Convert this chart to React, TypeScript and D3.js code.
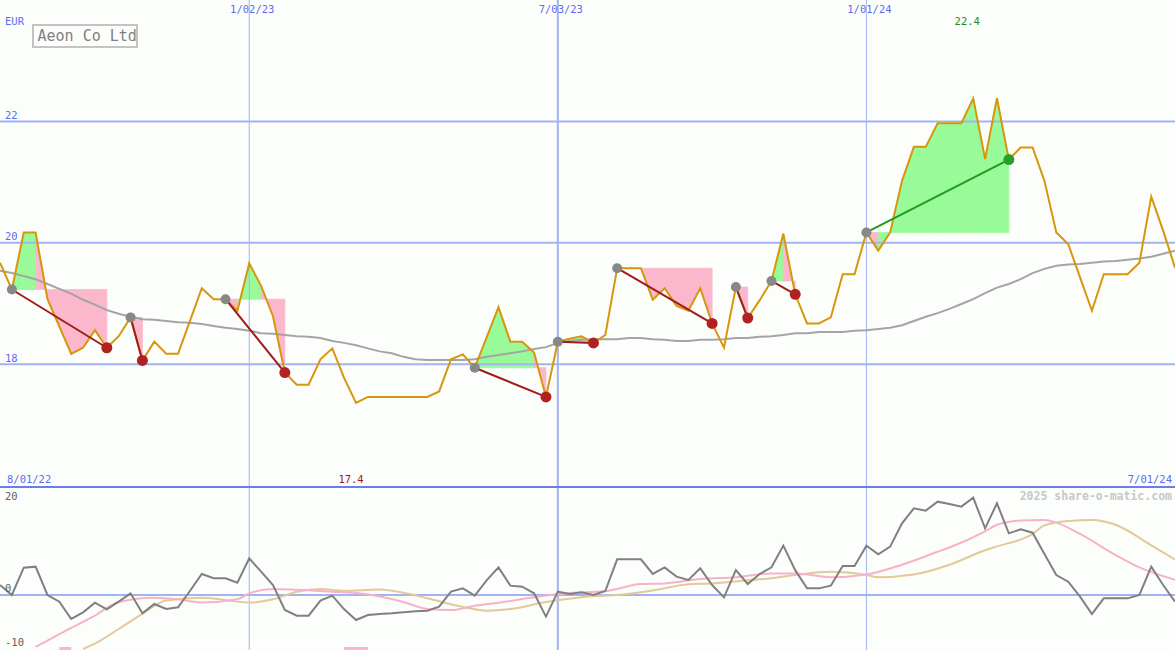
import * as d3 from "d3";

const W = 1175;
const H = 650;
const PANEL_Y = 487;

// weekly closes, EUR, from 8 Aug 2022 to 1 Jul 2024
const closes = [
  19.67, 19.23, 20.17, 20.17, 19.07, 18.62, 18.17, 18.27, 18.56, 18.27,
  18.46, 18.77, 18.06, 18.37, 18.17, 18.17, 18.71, 19.25, 19.07, 19.07,
  18.88, 19.66, 19.29, 18.79, 17.86, 17.66, 17.66, 18.08, 18.26, 17.77,
  17.36, 17.46, 17.46, 17.46, 17.46, 17.46, 17.46, 17.55, 18.08, 18.16,
  17.94, 18.44, 18.94, 18.37, 18.37, 18.19, 17.46, 18.37, 18.42, 18.46,
  18.35, 18.48, 19.58, 19.58, 19.58, 19.06, 19.25, 18.96, 18.88, 19.25,
  18.67, 18.27, 19.27, 18.76, 19.05, 19.37, 20.15, 19.15, 18.67, 18.67,
  18.77, 19.48, 19.48, 20.17, 19.87, 20.17, 21.02, 21.58, 21.58, 21.97,
  21.97, 21.97, 22.38, 21.38, 22.38, 21.37, 21.57, 21.57, 21.02, 20.17,
  19.98, 19.43, 18.88, 19.48, 19.48, 19.48, 19.67, 20.76, 20.2, 19.59,
];

// slow moving average (grey)
const movingAvg = [
  19.54, 19.5, 19.45, 19.4, 19.32, 19.24, 19.16, 19.06, 18.98, 18.89,
  18.83, 18.78, 18.74, 18.73, 18.71, 18.69, 18.68, 18.66, 18.63, 18.6,
  18.58, 18.55, 18.51, 18.5, 18.48, 18.46, 18.45, 18.43, 18.38, 18.35,
  18.31, 18.26, 18.21, 18.18, 18.12, 18.08, 18.07, 18.07, 18.07, 18.07,
  18.08, 18.12, 18.15, 18.18, 18.21, 18.25, 18.28, 18.35, 18.38, 18.4,
  18.41, 18.41, 18.41, 18.43, 18.43, 18.41, 18.4, 18.38, 18.38, 18.4,
  18.4, 18.41, 18.43, 18.43, 18.45, 18.46, 18.48, 18.51, 18.51, 18.53,
  18.53, 18.53, 18.55, 18.56, 18.58, 18.6, 18.64, 18.71, 18.78, 18.84,
  18.91, 18.99, 19.07, 19.17, 19.26, 19.32, 19.4, 19.5, 19.57, 19.62,
  19.64, 19.65, 19.67, 19.69, 19.7, 19.72, 19.74, 19.77, 19.82, 19.87,
];

// [start week, end week] of each signal
const signals: [number, number][] = [
  [1, 9], [11, 12], [19, 24], [40, 46], [47, 50],
  [52, 60], [62, 63], [65, 67], [73, 85],
];

// lower panel: momentum (dark grey)
const momentum = [
  1.85, 0, 5.06, 5.25, 0, -1.23, -4.44, -3.21, -1.42, -2.65,
  -1.23, 0.31, -3.4, -1.67, -2.59, -2.28, 0.74, 3.89, 3.09, 3.09,
  2.28, 6.79, 4.32, 1.85, -2.78, -3.83, -3.83, -1.05, -0.12, -2.65,
  -4.63, -3.7, -3.5, -3.4, -3.2, -3.0, -2.9, -2.16, 0.62, 1.23,
  -0.12, 2.7, 5.12, 1.73, 1.54, 0.31, -4.0, 0.62, 0.19, 0.49,
  0, 0.74, 6.6, 6.6, 6.6, 3.89, 5.12, 3.4, 2.78, 4.94,
  1.85, -0.43, 4.63, 2.04, 3.89, 5.12, 9.14, 4.6, 1.23, 1.23,
  1.73, 5.37, 5.37, 9.14, 7.53, 8.95, 13.27, 16.05, 15.62, 17.28,
  16.85, 16.36, 18.02, 12.35, 16.98, 11.42, 12.16, 11.54, 7.59, 3.7,
  2.47, -0.31, -3.52, -0.62, -0.62, -0.62, 0, 5.25, 1.85, -1.23,
];

// smoothed momentum lines, [week, value]
const pinkLine: [number, number][] = [
  [3, -9.6], [6, -6.1], [8, -3.8], [10, -1.3], [13, -0.5], [15, -0.8],
  [17, -1.4], [20, -0.8], [21, 0.3], [23, 1.1], [25, 0.95], [28, 0.6],
  [30, 0.35], [34, -1.3], [36, -2.6], [38, -2.8], [40, -2.0], [42, -1.45],
  [45, -0.43], [48, 0.35], [51, 0.7], [54, 2.04], [56, 2.15], [59, 2.96],
  [62, 3.3], [65, 4.0], [67, 4.0], [70, 3.3], [73, 3.8], [76, 5.6],
  [79, 8.0], [80, 8.8], [83, 11.8], [84, 13.0], [86, 13.8], [88, 13.9],
  [89, 13.4], [91, 11.3], [94, 7.4], [96, 5.1], [99, 2.8],
];
const tanLine: [number, number][] = [
  [7, -10], [8, -9.0], [10, -6.3], [12, -3.5], [14, -1.0], [17, -0.5],
  [21, -1.4], [23, -0.8], [25, 0.6], [27, 1.1], [29, 0.8], [32, 1.0],
  [34, 0.4], [36, -0.6], [39, -2.2], [41, -2.9], [43, -2.6], [46, -1.3],
  [49, -0.4], [52, 0], [55, 0.85], [58, 2.0], [60, 2.15], [63, 2.75],
  [65, 3.1], [67, 3.7], [70, 4.3], [73, 3.7], [74, 3.3], [77, 3.8],
  [80, 5.6], [83, 8.3], [84, 9.0], [87, 11.3], [88, 12.9], [90, 13.7],
  [92, 13.9], [94, 13.0], [97, 9.2], [99, 6.6],
];
const lowBars: [number, number][] = [[5, 6], [29, 31]];

const priceTicks = [22, 20, 18];
const oscTicks = [20, 0, -10];
const dateTicks = [
  new Date(Date.UTC(2023, 0, 2)),
  new Date(Date.UTC(2023, 6, 3)),
  new Date(Date.UTC(2024, 0, 1)),
];

const weeks = closes.map((_, i) => d3.utcDay.offset(new Date(Date.UTC(2022, 7, 8)), i * 7));

const BLUE = "#5c6cf0";
const GRID = "#a4b2f2";
const MONO = "'DejaVu Sans Mono', monospace";

export default function App() {
  const x = d3.scaleUtc().domain([weeks[0], weeks[weeks.length - 1]]).range([0, W]);
  const y = d3.scaleLinear().domain([16, 24]).range([485.5, 0]);
  const yo = d3.scaleLinear().domain([-10, 20]).range([649, PANEL_Y]);
  const xi = (i: number) => x(weeks[i]);
  const fmt = d3.utcFormat("%-m/%d/%y");

  const priceLine = d3.line<number>().x((_, i) => xi(i)).y((d) => y(d));
  const oscLine = d3.line<number>().x((_, i) => xi(i)).y((d) => yo(d));
  const smooth = d3
    .line<[number, number]>()
    .x((d) => xi(d[0]))
    .y((d) => yo(d[1]))
    .curve(d3.curveMonotoneX);
  const poly = d3.line<[number, number]>();

  // area between price and the signal's entry level, week by week
  const fills = signals.flatMap(([s, e], k) => {
    const base = closes[s];
    return d3.range(s, e).map((i) => {
      const pts: [number, number][] = [
        [xi(i), y(closes[i])],
        [xi(i + 1), y(closes[i + 1])],
        [xi(i + 1), y(base)],
        [xi(i), y(base)],
      ];
      const c = closes[i + 1] >= base ? "#98fa98" : "#fbb7cb";
      return (
        <path key={`f${k}-${i}`} d={poly(pts) + "Z"} fill={c} stroke={c} strokeWidth={0.8} />
      );
    });
  });

  const maxIdx = d3.maxIndex(closes);
  const minIdx = d3.minIndex(closes);

  return (
    <div style={{ position: "absolute", left: 0, top: 0 }}>
      <svg width={W} height={H} style={{ display: "block" }}>
        <rect width={W} height={H} fill="#fcfefc" />

        {fills}

        {/* grid */}
        {priceTicks.map((t) => (
          <line key={t} x1={0} x2={W} y1={y(t)} y2={y(t)} stroke={GRID} strokeWidth={2} />
        ))}
        <line x1={0} x2={W} y1={yo(0)} y2={yo(0)} stroke={GRID} strokeWidth={2} />
        {dateTicks.map((d, i) => (
          <line
            key={i}
            x1={x(d)}
            x2={x(d)}
            y1={0}
            y2={H}
            stroke={GRID}
            strokeWidth={i === 1 ? 2 : 1}
          />
        ))}
        <line x1={0} x2={W} y1={PANEL_Y} y2={PANEL_Y} stroke="#6c7ce8" strokeWidth={2} />

        {/* upper panel */}
        <path d={priceLine(movingAvg) || ""} fill="none" stroke="#a4a4a4" strokeWidth={2} />
        <path d={priceLine(closes) || ""} fill="none" stroke="#d8960c" strokeWidth={2} />
        {signals.map(([s, e], k) => {
          const win = closes[e] >= closes[s];
          return (
            <g key={k}>
              <line
                x1={xi(s)}
                y1={y(closes[s])}
                x2={xi(e)}
                y2={y(closes[e])}
                stroke={win ? "#229a22" : "#a01c1c"}
                strokeWidth={2}
              />
              <circle cx={xi(s)} cy={y(closes[s])} r={5} fill="#888888" />
              <circle cx={xi(e)} cy={y(closes[e])} r={5.5} fill={win ? "#2a9e2a" : "#b02222"} />
            </g>
          );
        })}

        {/* lower panel */}
        {lowBars.map(([a, b], i) => (
          <rect key={i} x={xi(a)} y={647} width={xi(b) - xi(a)} height={3} fill="#f8b8c8" />
        ))}
        <path d={smooth(tanLine) || ""} fill="none" stroke="#e2ca98" strokeWidth={2} />
        <path d={smooth(pinkLine) || ""} fill="none" stroke="#f8b2c8" strokeWidth={2} />
        <path d={oscLine(momentum) || ""} fill="none" stroke="#808080" strokeWidth={2} />

        {/* labels */}
        <g fontFamily={MONO} fontSize={10.5}>
          <text x={5} y={25} fill={BLUE}>EUR</text>
          {priceTicks.map((t) => (
            <text key={t} x={5} y={y(t) - 2.5} fill={BLUE}>{t}</text>
          ))}
          {dateTicks.map((d, i) => (
            <text key={i} x={x(d) + 3} y={13} textAnchor="middle" fill={BLUE}>
              {fmt(d)}
            </text>
          ))}
          <text x={7} y={483} fill={BLUE}>8/01/22</text>
          <text x={1172} y={483} textAnchor="end" fill={BLUE}>7/01/24</text>
          <text x={xi(minIdx) - 5} y={483} textAnchor="middle" fill="#a01818">
            {d3.format(".1f")(closes[minIdx])}
          </text>
          <text x={xi(maxIdx) - 6} y={25} textAnchor="middle" fill="#1a8a1a">
            {d3.format(".1f")(closes[maxIdx])}
          </text>
          {oscTicks.map((t) => (
            <text key={t} x={5} y={t === 20 ? 499.5 : yo(t) - 3} fill="#606060">{t}</text>
          ))}
          <text
            x={1172}
            y={499.5}
            textAnchor="end"
            fill="#c8c8c8"
            fontSize={11.5}
            fontWeight="bold"
          >
            2025 share-o-matic.com
          </text>
        </g>

        <rect x={33} y={25} width={104} height={22} fill="none" stroke="#c4c4c4" strokeWidth={2} />
        <text x={37.5} y={41} fontFamily={MONO} fontSize={15} fill="#808080">
          Aeon Co Ltd
        </text>
      </svg>
    </div>
  );
}
